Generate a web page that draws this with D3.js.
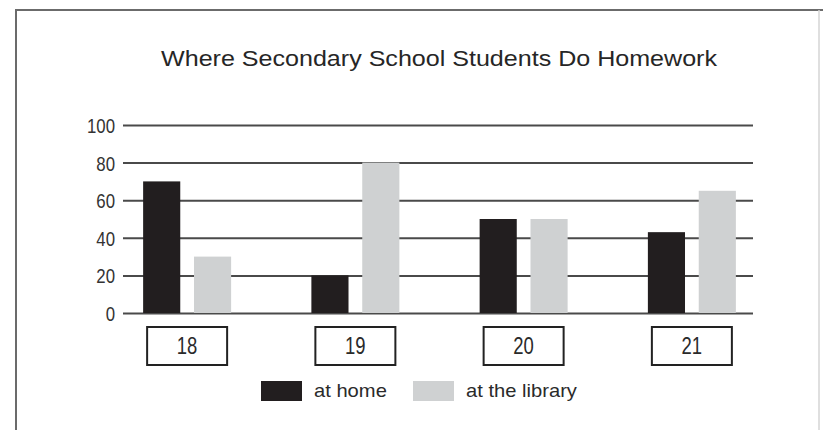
<!DOCTYPE html>
<html>
<head>
<meta charset="utf-8">
<script src="https://cdn.jsdelivr.net/npm/d3@7"></script>
<style>
  html, body { margin: 0; padding: 0; background: #ffffff; }
  svg { display: block; }
  text { font-family: "Liberation Sans", Arial, Helvetica, sans-serif; }
</style>
</head>
<body>
<svg id="chart" width="825" height="430"></svg>
<script>
// ---- data ----
const title = "Where Secondary School Students Do Homework";
const categories = ["18", "19", "20", "21"];
const seriesNames = ["at home", "at the library"];
const atHome = [70, 20, 50, 43];
const atLibrary = [30, 80, 50, 65];
const yTicks = [0, 20, 40, 60, 80, 100];
const seriesColors = ["#221e1f", "#cfd1d2"];

// ---- layout ----
const svg = d3.select("#chart");

// frame
svg.append("path")
  .attr("d", "M16,430 L16,10 L823,10")
  .attr("fill", "none").attr("stroke", "#6b6b6b").attr("stroke-width", 2);
svg.append("line")
  .attr("x1", 819).attr("x2", 819).attr("y1", 10).attr("y2", 430)
  .attr("stroke", "#d4d4d4").attr("stroke-width", 1.5);

// title (glyphs are horizontally wide in the reference)
svg.append("text")
  .attr("transform", "translate(439,66) scale(1.14,1)")
  .attr("text-anchor", "middle")
  .attr("font-size", 22)
  .attr("fill", "#262626")
  .text(title);

const plotLeft = 123, plotRight = 753;
const y = d3.scaleLinear().domain([0, 100]).range([313, 125]);

const x0 = d3.scaleBand().domain(categories)
  .range([103, 776]).paddingInner(0.477).paddingOuter(0.2385);
const x1 = d3.scaleBand().domain(seriesNames)
  .range([0, x0.bandwidth()]).paddingInner(0.27);
const color = d3.scaleOrdinal().domain(seriesNames).range(seriesColors);

// y axis with gridlines
const yAxis = d3.axisLeft(y).tickValues(yTicks)
  .tickSize(-(plotRight - plotLeft)).tickPadding(8);
const gy = svg.append("g")
  .attr("transform", `translate(${plotLeft},0)`)
  .call(yAxis);
gy.select(".domain").remove();
gy.selectAll(".tick line").attr("stroke", "#4a4a4a").attr("stroke-width", 2);
const tickScale = 0.8;
gy.selectAll(".tick text")
  .attr("font-size", 21)
  .attr("font-family", "Liberation Sans, Arial, sans-serif")
  .attr("fill", "#333")
  .attr("x", -8 / tickScale)
  .attr("dy", "0.36em")
  .attr("transform", `scale(${tickScale},1)`);

// bars
const rows = categories.map((c, i) => ({ cat: c, values: [
  { key: seriesNames[0], value: atHome[i] },
  { key: seriesNames[1], value: atLibrary[i] }
]}));

const groups = svg.append("g").selectAll("g").data(rows).join("g")
  .attr("transform", d => `translate(${x0(d.cat)},0)`);
groups.selectAll("rect").data(d => d.values).join("rect")
  .attr("x", d => x1(d.key))
  .attr("width", x1.bandwidth())
  .attr("y", d => y(d.value))
  .attr("height", d => y(0) - y(d.value))
  .attr("fill", d => color(d.key));

// category label boxes
const boxW = 80, boxTop = 327, boxH = 38;
const labels = svg.append("g").selectAll("g").data(categories).join("g")
  .attr("transform", c => `translate(${x0(c) + x0.bandwidth() / 2},0)`);
labels.append("rect")
  .attr("x", -boxW / 2).attr("y", boxTop)
  .attr("width", boxW).attr("height", boxH)
  .attr("fill", "#fff").attr("stroke", "#222").attr("stroke-width", 2);
labels.append("text")
  .attr("transform", `translate(0,${boxTop + 27}) scale(0.77,1)`)
  .attr("text-anchor", "middle")
  .attr("font-size", 24)
  .attr("fill", "#2a2a2a")
  .text(c => c);

// legend
const legendX = [261, 413];
const leg = svg.append("g").selectAll("g").data(seriesNames).join("g")
  .attr("transform", (d, i) => `translate(${legendX[i]},381)`);
leg.append("rect")
  .attr("width", 41).attr("height", 20)
  .attr("fill", d => color(d));
leg.append("text")
  .attr("transform", "translate(53,16) scale(1.12,1)")
  .attr("font-size", 18)
  .attr("fill", "#2a2a2a")
  .text(d => d);
</script>
</body>
</html>
